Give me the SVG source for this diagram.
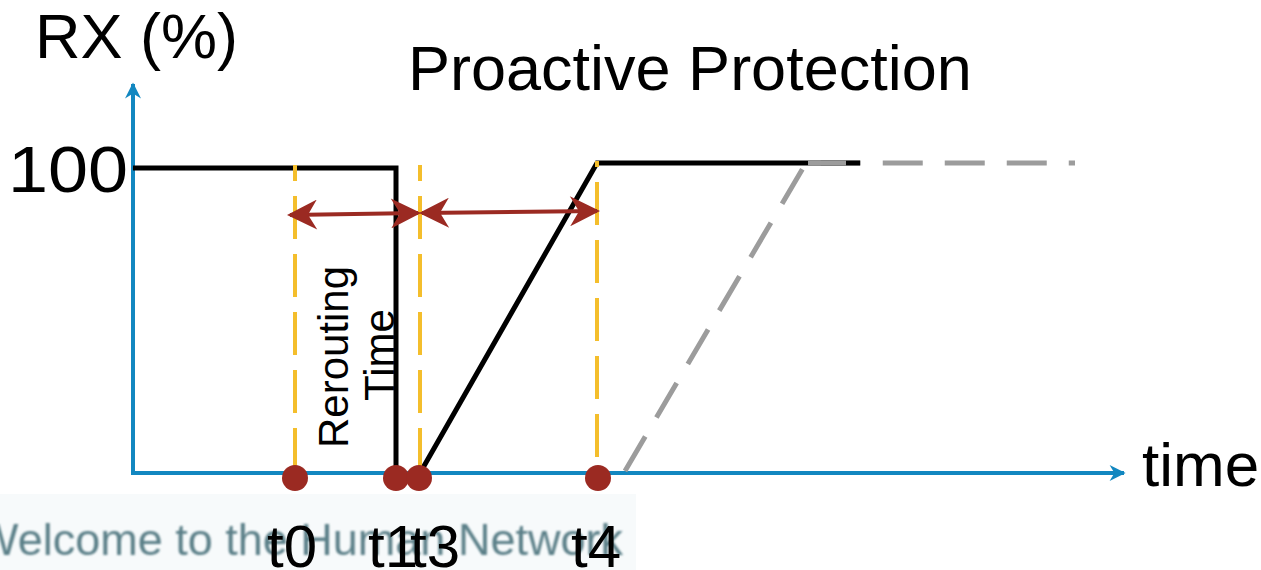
<svg xmlns="http://www.w3.org/2000/svg" width="1261" height="570" viewBox="0 0 1261 570">
  <defs>
    <style>
      .lbl { font-family: "Liberation Sans", Arial, sans-serif; fill: #000; }
      .axis { stroke: #1287C0; stroke-width: 4; fill: none; }
      .sig { stroke: #000; stroke-width: 5; fill: none; }
      .ghost { stroke: #9C9C9C; stroke-width: 5; fill: none; stroke-dasharray: 40 22; }
      .mark { stroke: #F4BE2C; stroke-width: 4; fill: none; stroke-dasharray: 43 15; }
      .span { stroke: #9B2A22; stroke-width: 4; fill: none; }
      .dot { fill: #9B2A22; }
    </style>
    <marker id="axhead" viewBox="0 0 10 10" refX="9" refY="5" markerWidth="5" markerHeight="4" orient="auto">
      <path d="M0,0 L10,5 L0,10 L3,5 z" fill="#1287C0"/>
    </marker>
    <marker id="spanhead" viewBox="0 0 10 10" refX="9" refY="5" markerWidth="8.5" markerHeight="7.5" orient="auto-start-reverse">
      <path d="M0,0 L10,5 L0,10 L3,5 z" fill="#9B2A22"/>
    </marker>
    <filter id="soft" x="-5%" y="-20%" width="110%" height="140%">
      <feGaussianBlur stdDeviation="1"/>
    </filter>
  </defs>

  <rect width="1261" height="570" fill="#fff"/>

  <!-- faded banner strip behind the time labels -->
  <g id="banner">
    <rect x="0" y="494" width="636" height="76" fill="#F7FAFB"/>
    <text x="-24" y="555" font-family="'Liberation Sans', Arial, sans-serif" font-size="45" fill="#406A74" opacity="0.85" filter="url(#soft)">Welcome to the Human Network</text>
  </g>

  <!-- axes -->
  <g id="axes">
    <line class="axis" x1="133" y1="473" x2="133" y2="84" marker-end="url(#axhead)"/>
    <line class="axis" x1="131" y1="473" x2="1124" y2="473" marker-end="url(#axhead)"/>
  </g>

  <!-- received-traffic curves -->
  <g id="curves">
    <path class="ghost" d="M625,471 L806,163 L1075,163"/>
    <polyline class="sig" points="133,168 396,168 396,473"/>
    <polyline class="sig" points="420,473 597,163 860,163"/>
    <line x1="808" y1="163" x2="846" y2="163" stroke="#9C9C9C" stroke-width="5"/>
  </g>

  <!-- event markers -->
  <g id="markers">
    <line class="mark" x1="295" y1="165" x2="295" y2="473" stroke-dashoffset="27"/>
    <line class="mark" x1="420" y1="165" x2="420" y2="473" stroke-dashoffset="27"/>
    <line class="mark" x1="597" y1="161" x2="597" y2="473" stroke-dashoffset="37"/>
  </g>

  <!-- rerouting span arrows -->
  <g id="connectors">
    <line class="span" x1="290" y1="215" x2="418" y2="213" marker-start="url(#spanhead)" marker-end="url(#spanhead)"/>
    <line class="span" x1="422" y1="213" x2="597" y2="211" marker-start="url(#spanhead)" marker-end="url(#spanhead)"/>
  </g>

  <!-- event points on the time axis -->
  <g id="points">
    <circle class="dot" cx="295" cy="478" r="13"/>
    <circle class="dot" cx="396" cy="478" r="13"/>
    <circle class="dot" cx="419" cy="478" r="13"/>
    <circle class="dot" cx="598" cy="478" r="13"/>
  </g>

  <!-- labels -->
  <g id="labels">
    <text class="lbl" x="35" y="58" font-size="63">RX (%)</text>
    <text class="lbl" x="8" y="192" font-size="64" textLength="120" lengthAdjust="spacingAndGlyphs">100</text>
    <text class="lbl" x="408" y="90" font-size="63">Proactive Protection</text>
    <text class="lbl" x="1142" y="486" font-size="62">time</text>
    <text class="lbl" transform="translate(348,357) rotate(-90)" text-anchor="middle" font-size="42">Rerouting</text>
    <text class="lbl" transform="translate(394,355) rotate(-90)" text-anchor="middle" font-size="42">Time</text>
    <text class="lbl" x="267" y="567" font-size="60">t0</text>
    <text class="lbl" x="368" y="567" font-size="60">t1</text>
    <text class="lbl" x="410" y="567" font-size="60">t3</text>
    <text class="lbl" x="571" y="567" font-size="60">t4</text>
  </g>
</svg>
